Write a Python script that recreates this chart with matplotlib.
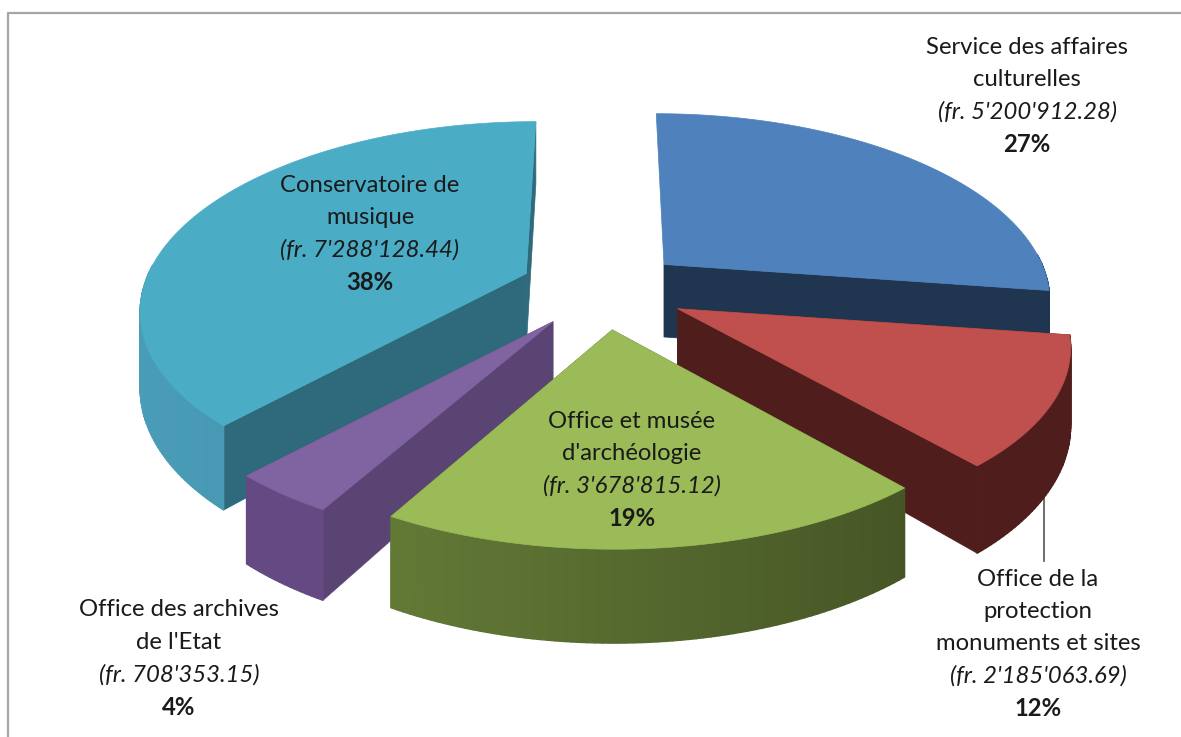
#!/usr/bin/python3
# exploded 3D pie, drawn by hand because matplotlib has no such pie
import numpy as np
from matplotlib import pyplot as plt
from matplotlib.collections import PolyCollection
from matplotlib.colors import to_rgb

names = [["Service des affaires", "culturelles"],
         ["Office de la", "protection", "monuments et sites"],
         ["Office et musée", "d'archéologie"],
         ["Office des archives", "de l'Etat"],
         ["Conservatoire de", "musique"]]
amounts = [5200912.28, 2185063.69, 3678815.12, 708353.15, 7288128.44]
percents = ["27%", "12%", "19%", "4%", "38%"]

top_colors = ['#4F81BD', '#C0504D', '#9BBB59', '#8064A2', '#4BACC6']
cut_colors = ['#1F3550', '#4F1E1C', '#4A5A28', '#5A4473', '#2E6A7C']
wall_left = ['#1F3550', '#4F1E1C', '#6F8A3E', '#664A85', '#4A9DB8']
wall_right = ['#1F3550', '#4F1E1C', '#3E4A20', '#5E4678', '#3A859E']

# center x of each label, y of its first line
label_pos = [(1027, 47), (1038, 579), (632, 421), (179, 610), (370, 185)]
line_step = 32.4

# view of the pie in pixels
cx, cy = 600, 283
radius = 390
squash = 0.456
persp = 0.18
depth = 74
explode = 0.18

# the picture is not a clean projection, so each slice gets a small correction
nudge_x = [12, 15, 5, -5, -9]
nudge_y = [2, 10, 14, 12, 2]
size = [0.99, 0.97, 0.955, 0.96, 0.98]
size_y = [1.04, 0.97, 0.94, 0.96, 1.03]


def project(x, y, z=0.0):
    s = 1 / (1 + persp * y)
    return cx + radius * x * s, cy - radius * squash * y * s + depth * z * s


def draw_slice(ax, a0, a1, i, zorder):
    mid = (a0 + a1) / 2
    ox, oy = explode * np.cos(mid), explode * np.sin(mid)
    ts = np.linspace(a0, a1, int(abs(a1 - a0) * 60) + 2)
    ax0, ay0 = project(ox, oy)

    def place(x, y, z=0.0):
        # scale the slice about its own apex, then nudge it
        px, py = project(x, y)
        _, low = project(x, y, z)
        return (ax0 + (px - ax0) * size[i] + nudge_x[i],
                ay0 + (py - ay0) * size_y[i] + (low - py) + nudge_y[i])

    def rim(t, z=0.0):
        return place(ox + np.cos(t), oy + np.sin(t), z)

    apex = place(ox, oy)
    apex_low = place(ox, oy, 1)

    # radial cut walls, the back edge of the blue slice does not show
    for t in (a0, a1):
        if i == 0 and t == a0:
            continue
        quad = [apex, rim(t), rim(t, 1), apex_low]
        ax.fill(*zip(*quad), color=cut_colors[i], lw=0.5, zorder=zorder)

    # outer wall, front part only, shaded from left to right
    quads, colors = [], []
    c0, c1 = np.array(to_rgb(wall_left[i])), np.array(to_rgb(wall_right[i]))
    for t0, t1 in zip(ts[:-1], ts[1:]):
        if np.sin((t0 + t1) / 2) > 0.05:
            continue
        quads.append([rim(t0), rim(t1), rim(t1, 1), rim(t0, 1)])
        f = (1 - np.cos((t0 + t1) / 2)) / 2
        colors.append(c1 + (c0 - c1) * f)
    if quads:
        ax.add_collection(PolyCollection(quads, facecolors=colors, edgecolors=colors,
                                         linewidths=1.0, zorder=zorder))

    # top face
    px, py = zip(*[rim(t) for t in ts])
    ax.fill([apex[0], *px], [apex[1], *py], color=top_colors[i], lw=0.5, zorder=zorder)


plt.rcParams['font.family'] = ['Lato', 'DejaVu Sans']
fig = plt.figure(figsize=(11.81, 7.37), dpi=100)
ax = fig.add_axes([0, 0, 1, 1])
ax.set_xlim(0, 1181)
ax.set_ylim(737, 0)
ax.axis('off')

# frame of the pasted chart
ax.plot([8, 8, 1181], [737, 13, 13], color='#A6A6A6', lw=1.6, zorder=0)

# leader line of the small red slice
ax.plot([1044, 1044], [480, 561], color='#555555', lw=1.2, zorder=1)

# slices run clockwise from the top
shares = np.array(amounts) / sum(amounts)
edges = np.pi / 2 - 2 * np.pi * np.concatenate([[0], np.cumsum(shares)])
draw_order = [4, 0, 1, 3, 2]
for z, i in enumerate(draw_order):
    draw_slice(ax, edges[i], edges[i + 1], i, z + 2)

for i, (x, y) in enumerate(label_pos):
    amount = "(fr. " + f"{amounts[i]:,.2f}".replace(",", "'") + ")"
    lines = [(n, 'normal', 'normal') for n in names[i]]
    lines += [(amount, 'italic', 'normal'), (percents[i], 'normal', 'bold')]
    for j, (txt, style, weight) in enumerate(lines):
        ax.text(x, y + j * line_step, txt, ha='center', va='center', fontsize=17.2,
                style=style, weight=weight, color='#1A1A1A', zorder=10)

fig.savefig('out.png', dpi=100)
